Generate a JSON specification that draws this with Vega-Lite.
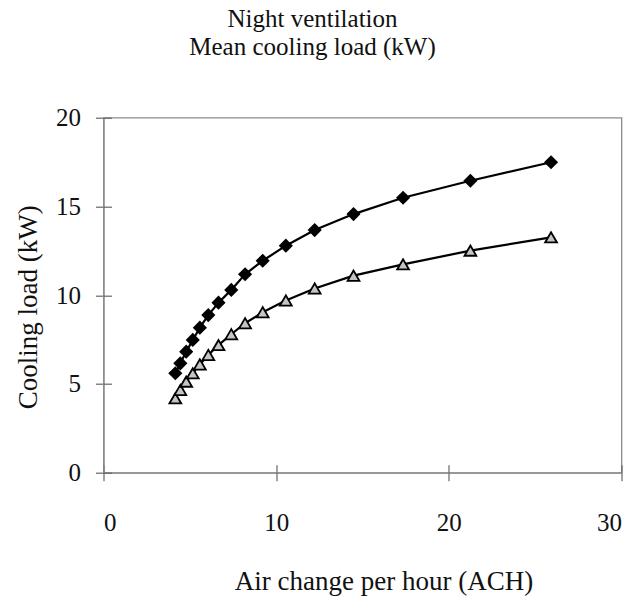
{
  "$schema": "https://vega.github.io/schema/vega-lite/v6.json",
  "autosize": "none",
  "width": 518,
  "height": 355,
  "padding": {"left": 103.5, "top": 117.7, "right": 14.5, "bottom": 124.3},
  "background": "white",
  "title": {
    "text": ["Night ventilation", "Mean cooling load (kW)"],
    "font": "Liberation Serif",
    "fontSize": 25,
    "fontWeight": "normal",
    "color": "#111111",
    "lineHeight": 28,
    "anchor": "middle",
    "dx": -50,
    "offset": 46
  },
  "config": {
    "view": {"stroke": "#8a8a8a", "strokeWidth": 1.3},
    "axis": {
      "grid": false,
      "domainColor": "#8a8a8a",
      "domainWidth": 1.3,
      "tickColor": "#666666",
      "tickWidth": 1.2,
      "labelFont": "Liberation Serif",
      "labelFontSize": 25,
      "labelColor": "#111111",
      "titleFont": "Liberation Serif",
      "titleFontWeight": "normal",
      "titleColor": "#111111"
    }
  },
  "data": {
    "values": [
      {"series": "A", "ach": 4.16, "load": 5.6},
      {"series": "A", "ach": 4.45, "load": 6.16},
      {"series": "A", "ach": 4.79, "load": 6.82},
      {"series": "A", "ach": 5.17, "load": 7.48},
      {"series": "A", "ach": 5.58, "load": 8.17},
      {"series": "A", "ach": 6.07, "load": 8.88},
      {"series": "A", "ach": 6.66, "load": 9.58},
      {"series": "A", "ach": 7.4, "load": 10.3},
      {"series": "A", "ach": 8.2, "load": 11.18},
      {"series": "A", "ach": 9.22, "load": 11.94},
      {"series": "A", "ach": 10.56, "load": 12.79},
      {"series": "A", "ach": 12.23, "load": 13.67},
      {"series": "A", "ach": 14.48, "load": 14.57},
      {"series": "A", "ach": 17.35, "load": 15.49},
      {"series": "A", "ach": 21.25, "load": 16.45},
      {"series": "A", "ach": 25.92, "load": 17.49},
      {"series": "B", "ach": 4.16, "load": 4.19},
      {"series": "B", "ach": 4.45, "load": 4.66},
      {"series": "B", "ach": 4.79, "load": 5.13},
      {"series": "B", "ach": 5.17, "load": 5.6},
      {"series": "B", "ach": 5.58, "load": 6.1},
      {"series": "B", "ach": 6.07, "load": 6.63},
      {"series": "B", "ach": 6.66, "load": 7.19},
      {"series": "B", "ach": 7.4, "load": 7.8},
      {"series": "B", "ach": 8.2, "load": 8.42},
      {"series": "B", "ach": 9.22, "load": 9.04},
      {"series": "B", "ach": 10.56, "load": 9.7},
      {"series": "B", "ach": 12.23, "load": 10.38},
      {"series": "B", "ach": 14.48, "load": 11.1},
      {"series": "B", "ach": 17.35, "load": 11.74},
      {"series": "B", "ach": 21.25, "load": 12.51},
      {"series": "B", "ach": 25.92, "load": 13.26}
    ]
  },
  "layer": [
    {
      "mark": {"type": "line", "color": "black", "strokeWidth": 2.2},
      "encoding": {
        "x": {
          "field": "ach", "type": "quantitative",
          "scale": {"domain": [0, 30], "nice": false},
          "axis": {
            "orient": "bottom",
            "values": [0, 10, 20, 30],
            "tickSize": 8,
            "labelPadding": 50,
            "labelBaseline": "alphabetic",
            "title": "Air change per hour (ACH)",
            "titleFontSize": 27,
            "titleX": 280,
            "titleY": 117,
            "titleBaseline": "alphabetic",
            "titleAnchor": null
          }
        },
        "y": {
          "field": "load", "type": "quantitative",
          "scale": {"domain": [0, 20], "nice": false},
          "axis": {
            "orient": "left",
            "values": [0, 5, 10, 15, 20],
            "tickSize": 8,
            "labelPadding": 15,
            "title": "Cooling load (kW)",
            "titleFontSize": 27,
            "titleX": -67.5,
            "titleY": 189,
            "titleAngle": 270,
            "titleBaseline": "alphabetic",
            "titleAlign": "center"
          }
        },
        "detail": {"field": "series"}
      }
    },
    {
      "transform": [{"filter": "datum.series === 'A'"}],
      "mark": {"type": "point", "shape": "diamond", "filled": true, "color": "black", "size": 200, "opacity": 1},
      "encoding": {
        "x": {
          "field": "ach", "type": "quantitative",
          "scale": {"domain": [0, 30], "nice": false},
          "axis": {"orient": "bottom", "values": [0, 10, 20, 30], "tickSize": -8, "labels": false, "domain": false, "title": null}
        },
        "y": {
          "field": "load", "type": "quantitative",
          "scale": {"domain": [0, 20], "nice": false},
          "axis": {"orient": "left", "values": [0, 5, 10, 15, 20], "tickSize": -8, "labels": false, "domain": false, "title": null}
        }
      }
    },
    {
      "transform": [{"filter": "datum.series === 'B'"}],
      "mark": {"type": "point", "shape": "triangle-up", "filled": true, "fill": "#c4c4c4", "stroke": "black", "strokeWidth": 1.8, "size": 140, "opacity": 1},
      "encoding": {
        "x": {
          "field": "ach", "type": "quantitative",
          "scale": {"domain": [0, 30], "nice": false},
          "axis": null
        },
        "y": {
          "field": "load", "type": "quantitative",
          "scale": {"domain": [0, 20], "nice": false},
          "axis": null
        }
      }
    }
  ],
  "resolve": {"axis": {"x": "independent", "y": "independent"}}
}
